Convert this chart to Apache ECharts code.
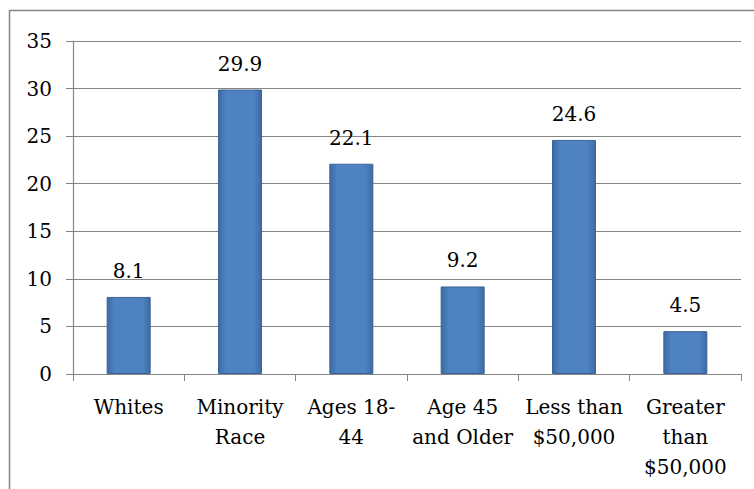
<!DOCTYPE html>
<html>
<head>
<meta charset="utf-8">
<script src="https://cdn.jsdelivr.net/npm/echarts@6/dist/echarts.min.js"></script>
<style>
html,body{margin:0;padding:0;background:#fff;}
#c{width:754px;height:489px;}
</style>
</head>
<body>
<div id="c"></div>
<script>
var categories = ['Whites', 'Minority\nRace', 'Ages 18-\n44', 'Age 45\nand Older', 'Less than\n$50,000', 'Greater\nthan\n$50,000'];
var values = [8.1, 29.9, 22.1, 9.2, 24.6, 4.5];
var yTicks = [0, 5, 10, 15, 20, 25, 30, 35];

var font = 'DejaVu Serif';
var grayLine = '#858585';

var chart = echarts.init(document.getElementById('c'), null, {renderer: 'svg'});
chart.setOption({
  animation: false,
  backgroundColor: '#fff',
  graphic: [{
    type: 'rect',
    shape: {x: 9.5, y: 10.5, width: 800, height: 600},
    style: {fill: 'none', stroke: grayLine, lineWidth: 1.5},
    silent: true
  }],
  grid: {left: 73, right: 13, top: 41, bottom: 115, containLabel: false},
  xAxis: {
    type: 'category',
    data: categories,
    boundaryGap: true,
    axisLine: {show: true, lineStyle: {color: grayLine, width: 1.2}},
    axisTick: {show: true, length: 7, lineStyle: {color: grayLine}},
    axisLabel: {
      interval: 0,
      margin: 18,
      fontFamily: font,
      fontSize: 20,
      color: '#000',
      lineHeight: 30
    }
  },
  yAxis: {
    type: 'value',
    min: yTicks[0],
    max: yTicks[yTicks.length - 1],
    interval: 5,
    axisLine: {show: true, lineStyle: {color: grayLine, width: 1.2}},
    axisTick: {show: true, length: 7, lineStyle: {color: grayLine}},
    splitLine: {show: true, lineStyle: {color: grayLine, width: 1.2}},
    axisLabel: {
      margin: 21,
      fontFamily: font,
      fontSize: 20,
      color: '#000'
    }
  },
  series: [{
    type: 'bar',
    data: values,
    barWidth: 44,
    itemStyle: {
      color: new echarts.graphic.LinearGradient(0, 0, 1, 0, [
        {offset: 0, color: '#3d6ba3'},
        {offset: 0.18, color: '#4f82c2'},
        {offset: 0.82, color: '#4f82c2'},
        {offset: 1, color: '#3d6ba3'}
      ]),
      borderColor: '#3a6396',
      borderWidth: 1
    },
    label: {
      show: true,
      position: 'top',
      distance: 16,
      fontFamily: font,
      fontSize: 20,
      color: '#000'
    }
  }]
});
</script>
</body>
</html>
